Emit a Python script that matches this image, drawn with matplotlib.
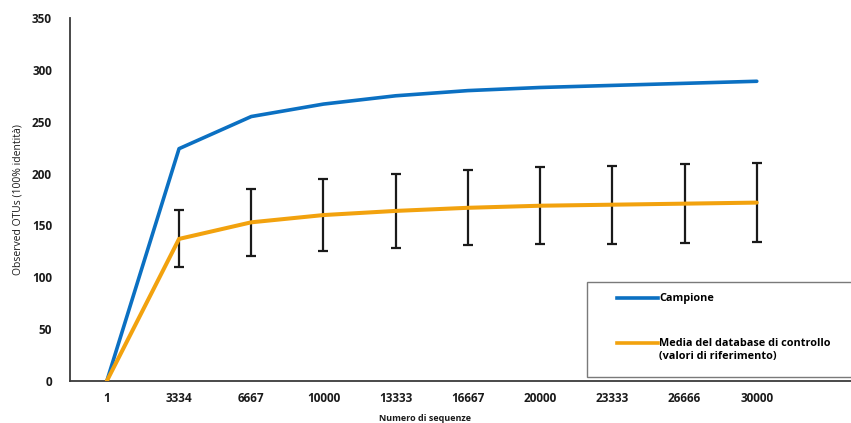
import matplotlib
matplotlib.use("Agg")
import matplotlib.pyplot as plt
from matplotlib.patches import Rectangle
from matplotlib.lines import Line2D

# sequencing depth (categorical, equally spaced on the x axis)
depth_labels = ["1", "3334", "6667", "10000", "13333", "16667",
                "20000", "23333", "26666", "30000"]

# observed OTUs for the sample
campione = [0, 224, 255, 267, 275, 280, 283, 285, 287, 289]

# mean of the control database and its spread
media_db = [0, 137, 153, 160, 164, 167, 169, 170, 171, 172]
media_err = [0, 27.5, 32, 34.5, 36, 36, 37, 37.5, 38, 38]

blue = "#0B70C2"
orange = "#F2A20E"

plt.rcParams["font.family"] = ["Open Sans", "DejaVu Sans"]

W, H = 851, 423
fig = plt.figure(figsize=(W / 100, H / 100), dpi=100)
ax = fig.add_axes([70 / W, 42 / H, (W - 70) / W, (381 - 18) / H])

x = list(range(len(depth_labels)))

ax.plot(x, campione, color=blue, lw=2.6, solid_capstyle="round", zorder=3)
ax.errorbar(x[1:], media_db[1:], yerr=media_err[1:], fmt="none",
            ecolor="#1a1a1a", elinewidth=1.6, capsize=3.8, capthick=1.6, zorder=2)
ax.plot(x, media_db, color=orange, lw=2.9, solid_capstyle="round", zorder=3)

ax.set_ylim(0, 350)
ax.set_xlim(-0.51, (W - 107) / 72.2)
ax.set_yticks(range(0, 351, 50))
ax.set_xticks(x)
ax.set_xticklabels(depth_labels)

for s in ["top", "right"]:
    ax.spines[s].set_visible(False)
for s in ["left", "bottom"]:
    ax.spines[s].set_color("#3a3a3a")
    ax.spines[s].set_linewidth(1.3)

ax.tick_params(axis="both", length=0, labelsize=8.5, colors="#1a1a1a")
ax.tick_params(axis="y", pad=13)
ax.tick_params(axis="x", pad=8)
for lbl in ax.get_xticklabels() + ax.get_yticklabels():
    lbl.set_fontweight("bold")

ax.set_ylabel("Observed OTUs (100% identità)", fontsize=7.5, labelpad=6, color="#1a1a1a")
fig.text(425 / W, 1 - 418 / H, "Numero di sequenze", fontsize=6.5, fontweight="bold",
         ha="center", va="center", color="#1a1a1a")

# legend box drawn in figure pixels
def fx(px):
    return px / W

def fy(py):
    return 1 - py / H

fig.add_artist(Rectangle((fx(587), fy(377)), fx(300), (377 - 282) / H,
                         transform=fig.transFigure, facecolor="white",
                         edgecolor="#7a7a7a", lw=1.0, zorder=5))
fig.add_artist(Line2D([fx(617), fx(658)], [fy(298), fy(298)], color=blue, lw=2.6,
                      transform=fig.transFigure, zorder=6))
fig.add_artist(Line2D([fx(617), fx(658)], [fy(343), fy(343)], color=orange, lw=2.6,
                      transform=fig.transFigure, zorder=6))
fig.text(fx(659), fy(298), "Campione", fontsize=7.8, fontweight="bold",
         va="center", ha="left", zorder=7)
fig.text(fx(659), fy(350), "Media del database di controllo\n(valori di riferimento)",
         fontsize=7.8, fontweight="bold", va="center", ha="left", linespacing=1.3, zorder=7)

fig.savefig("out.png", dpi=100, facecolor="white")
